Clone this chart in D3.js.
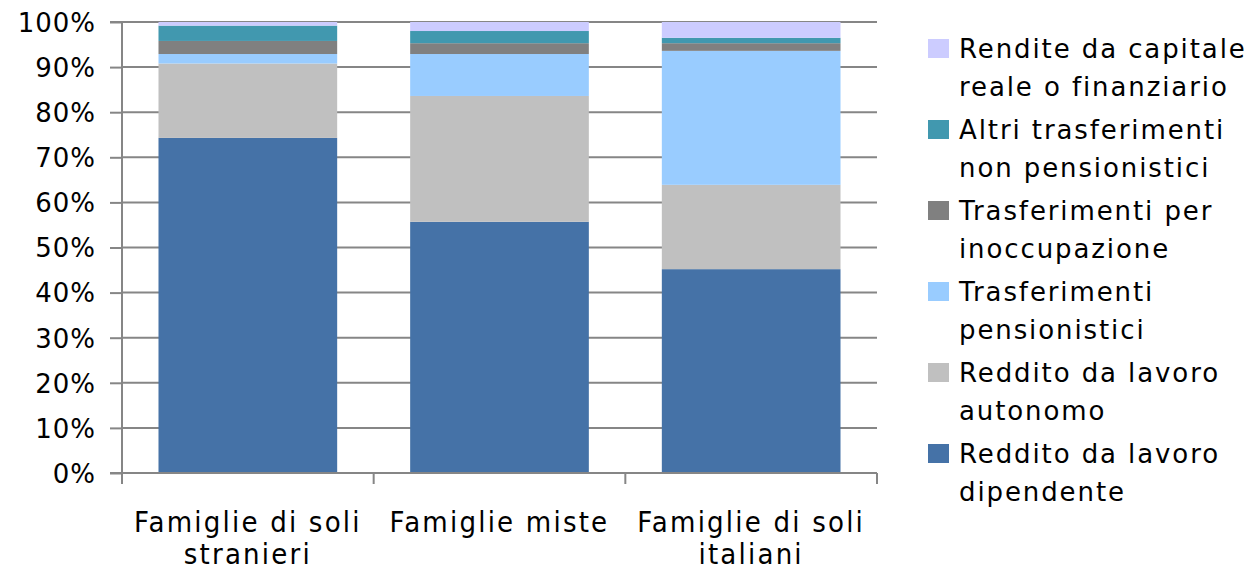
<!DOCTYPE html>
<html><head><meta charset="utf-8">
<script src="https://cdn.jsdelivr.net/npm/d3@7"></script>
<style>
body{margin:0;background:#fff;}
svg{display:block;}
</style></head>
<body><svg id="c" width="1252" height="571"></svg>
<script>
const categories = [["Famiglie di soli","stranieri"],["Famiglie miste"],["Famiglie di soli","italiani"]];
const categoryKeys = ["stranieri","miste","italiani"];
const seriesNames = [
  ["Reddito da lavoro","dipendente"],
  ["Reddito da lavoro","autonomo"],
  ["Trasferimenti","pensionistici"],
  ["Trasferimenti per","inoccupazione"],
  ["Altri trasferimenti","non pensionistici"],
  ["Rendite da capitale","reale o finanziario"]
];
const seriesColors = ["#4572A7","#C0C0C0","#99CCFF","#808080","#4198AF","#CCCCFF"];
const dipendente = [74.3, 55.7, 45.2];
const autonomo   = [16.5, 27.9, 18.7];
const pensioni   = [2.1, 9.3, 29.7];
const inoccup    = [2.9, 2.4, 1.7];
const altri      = [3.4, 2.7, 1.2];
const rendite    = [0.8, 2.0, 3.5];
const yTicks = [0,10,20,30,40,50,60,70,80,90,100];

const series = [dipendente, autonomo, pensioni, inoccup, altri, rendite];
const table = categoryKeys.map((k,i)=>{
  const o = {cat:k};
  series.forEach((s,j)=>o["s"+j]=s[i]);
  return o;
});
const keys = series.map((_,j)=>"s"+j);
const stacked = d3.stack().keys(keys)(table);

const svg = d3.select("#c");
const L=122, R=877, T=22, B=473;
const x = d3.scaleBand().domain(categoryKeys).range([L,R]).paddingInner(0.29).paddingOuter(0.145);
const y = d3.scaleLinear().domain([0,100]).range([B,T]);
const axisCol = "#868686";

// gridlines
svg.append("g").selectAll("line").data(yTicks.filter(d=>d>0)).join("line")
  .attr("x1",L).attr("x2",R).attr("y1",d=>y(d)).attr("y2",d=>y(d))
  .attr("stroke",axisCol).attr("stroke-width",2);

// bars
svg.append("g").selectAll("g").data(stacked).join("g")
  .attr("fill",(d,i)=>seriesColors[i])
  .selectAll("rect").data(d=>d).join("rect")
  .attr("x",d=>x(d.data.cat)).attr("width",x.bandwidth())
  .attr("y",d=>y(d[1])).attr("height",d=>y(d[0])-y(d[1]));

// y axis
const yAxis = d3.axisLeft(y).tickValues(yTicks).tickFormat(d=>d+"%").tickSize(12).tickPadding(14);
const gy = svg.append("g").attr("transform",`translate(${L},0)`).call(yAxis);
gy.select(".domain").attr("stroke",axisCol).attr("stroke-width",2).attr("d",`M-12,${T}H0V${B}H-12`);
gy.selectAll(".tick line").attr("stroke",axisCol).attr("stroke-width",2);
gy.selectAll(".tick text").attr("font-family","DejaVu Sans, Verdana, sans-serif").attr("font-size",26)
  .attr("fill","#000").attr("letter-spacing","1px").attr("dy","0.36em");

// x axis
svg.append("line").attr("x1",L).attr("x2",R).attr("y1",B).attr("y2",B).attr("stroke",axisCol).attr("stroke-width",2);
const step = x.step();
const bounds = d3.range(categoryKeys.length+1).map(i=>L+i*step);
svg.append("g").selectAll("line").data(bounds).join("line")
  .attr("x1",d=>d).attr("x2",d=>d).attr("y1",B).attr("y2",B+11)
  .attr("stroke",axisCol).attr("stroke-width",2);
const xl = svg.append("g").selectAll("text").data(categoryKeys).join("text")
  .attr("x",d=>x(d)+x.bandwidth()/2).attr("y",532)
  .attr("text-anchor","middle").attr("font-family","Liberation Sans Narrow, DejaVu Sans Condensed, Open Sans, sans-serif")
  .attr("font-size",29).attr("letter-spacing","2.2px").attr("fill","#000");
xl.each(function(d,i){
  const t = d3.select(this);
  categories[i].forEach((line,k)=>{
    t.append("tspan").attr("x",x(d)+x.bandwidth()/2).attr("dy",k===0?0:32).text(line);
  });
});

// legend
const leg = svg.append("g");
const order = [5,4,3,2,1,0];
order.forEach((si,idx)=>{
  const by = 58 + idx*81;
  leg.append("rect").attr("x",928).attr("y",by-19).attr("width",21).attr("height",19).attr("fill",seriesColors[si]);
  const t = leg.append("text").attr("font-family","DejaVu Sans, Verdana, sans-serif").attr("font-size",26)
    .attr("letter-spacing","1.9px").attr("fill","#000");
  seriesNames[si].forEach((line,k)=>{
    t.append("tspan").attr("x",959).attr("y",by+k*38).text(line);
  });
});
</script></body></html>
